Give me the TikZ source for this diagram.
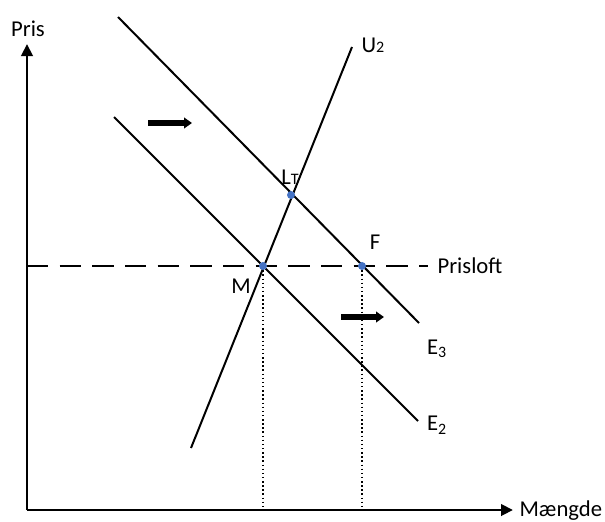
\documentclass[tikz,border=0pt]{standalone}
\usepackage{fontspec}
\setmainfont{Carlito}
\usetikzlibrary{arrows.meta}
\definecolor{dotblue}{RGB}{68,114,196}
\begin{document}
\begin{tikzpicture}[x=0.75pt,y=-0.75pt,
  curve/.style={line width=1.5pt},
  axis/.style={line width=2.2pt,-{Triangle[length=9pt,width=8.5pt]}},
  shiftarrow/.style={line width=4.5pt,-{Triangle[length=6pt,width=8pt]}},
  pt/.style={circle,fill=dotblue,inner sep=0pt,minimum size=6pt},
  lbl/.style={font=\fontsize{17}{19}\selectfont,inner sep=1pt}]
\useasboundingbox (0,0) rectangle (605,521);
% axes
\coordinate (o) at (27,510);
\coordinate (ytop) at (27,44);
\coordinate (xend) at (513,510);
\node[lbl] (pris) at (28,29) {Pris};
\node[lbl,anchor=west] (qty) at (518,511) {Mængde};
\draw[axis] (o) -- (ytop);
\draw[axis] (o) -- (xend);
% curves
\coordinate (e3a) at (118,17);
\coordinate (e3b) at (419,323);
\coordinate (e2a) at (114,117);
\coordinate (e2b) at (418,421);
\coordinate (u2a) at (191,448);
\coordinate (u2b) at (352,47);
\draw[curve] (e3a) -- (e3b);
\draw[curve] (e2a) -- (e2b);
\draw[curve] (u2a) -- (u2b);
\node[lbl] (e3) at (437,349) {E\textsubscript{3}};
\node[lbl] (e2) at (437,425) {E\textsubscript{2}};
\node[lbl] (u2) at (373,45) {U{\fontsize{12}{12}\selectfont 2}};
% price ceiling
\coordinate (ceil) at (27,266);
\coordinate (ceilend) at (428,266);
\node[lbl,anchor=west] (loft) at (436,266) {Prisloft};
\draw[line width=1.5pt,dash pattern=on 16pt off 8.5pt] (ceil) -- (ceilend);
% points
\node[pt] (m) at (263,266) {};
\node[pt] (lt) at (291,195) {};
\node[pt] (f) at (362,266) {};
\node[lbl] (mlbl) at (241,286) {M};
\node[lbl] (ltlbl) at (290,177) {L{\fontsize{12}{12}\selectfont T}};
\node[lbl] (flbl) at (375,242) {F};
\draw[line width=1.1pt,dotted] (m) -- (m |- o);
\draw[line width=1.1pt,dotted] (f) -- (f |- o);
% shift arrows
\coordinate (s1a) at (148,123);
\coordinate (s1b) at (192,123);
\coordinate (s2a) at (341,317);
\coordinate (s2b) at (384,317);
\draw[shiftarrow] (s1a) -- (s1b);
\draw[shiftarrow] (s2a) -- (s2b);
\end{tikzpicture}
\end{document}
